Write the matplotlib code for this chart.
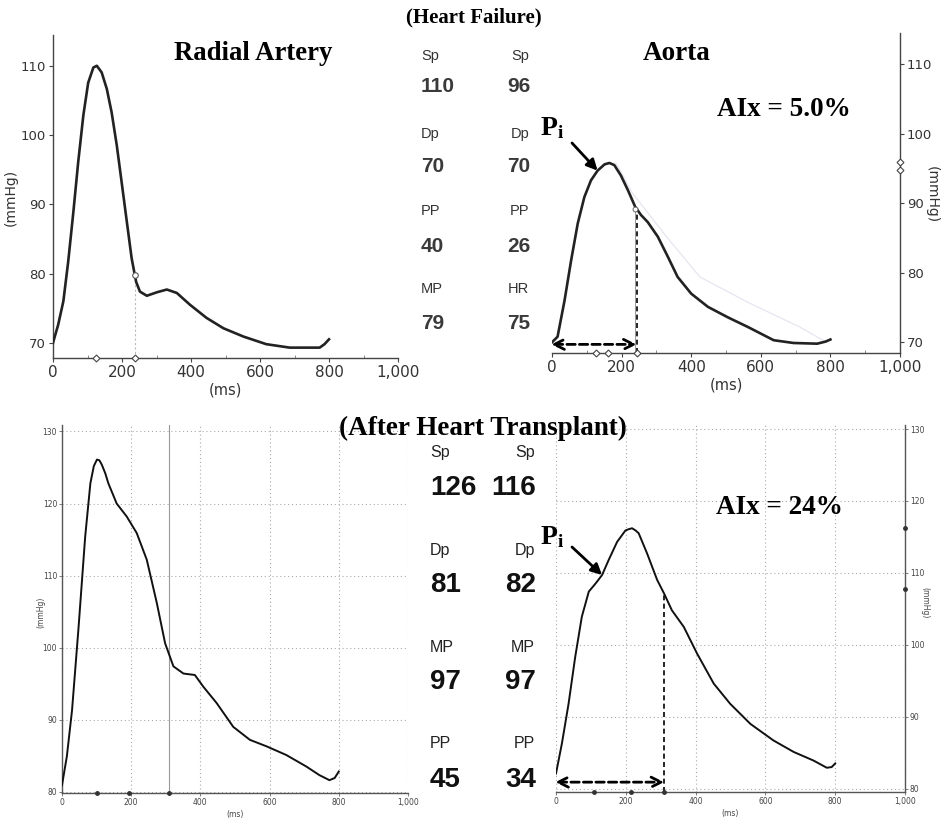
import numpy as np
import matplotlib.pyplot as plt

plt.rcParams['mathtext.fontset'] = 'custom'
plt.rcParams['mathtext.bf'] = 'Liberation Serif:bold'
plt.rcParams['mathtext.rm'] = 'Liberation Serif'

# ---- waveform data (time in ms, pressure in mmHg) ----
# heart failure: radial artery
hf_rad_t = [0, 15, 30, 44, 59, 73, 88, 102, 117, 127, 141, 156, 170, 185, 199, 214, 228, 241, 252, 272,
            301, 330, 359, 397, 445, 494, 552, 618, 686, 773, 787, 800]
hf_rad_p = [70.0, 72.6, 76.0, 81.7, 88.9, 96.1, 102.9, 107.6, 109.8, 110.05, 109.1, 106.7, 103.3, 98.5,
            93.2, 87.5, 82.2, 78.8, 77.4, 76.8, 77.3, 77.7, 77.2, 75.5, 73.6, 72.1, 70.9, 69.8, 69.3,
            69.3, 69.8, 70.5]
# heart failure: aorta (reconstructed)
hf_ao_t = [0, 16, 36, 55, 74, 93, 112, 131, 151, 165, 179, 198, 218, 239, 256, 275, 304, 333, 361, 400,
           448, 505, 563, 637, 694, 762, 786, 800]
hf_ao_p = [70.0, 70.8, 76.0, 81.8, 87.1, 90.9, 93.3, 94.7, 95.6, 95.8, 95.5, 94.0, 91.9, 89.5, 88.3, 87.3,
           85.2, 82.3, 79.4, 77.0, 75.1, 73.6, 72.2, 70.3, 69.9, 69.8, 70.1, 70.4]
hf_ao2_t = [185, 232, 329, 425, 569, 712, 789]
hf_ao2_p = [95.7, 91.4, 85.2, 79.4, 75.6, 72.2, 70.0]

# after transplant: radial artery
tx_rad_t = [0, 14, 29, 48, 67, 82, 92, 101, 108, 115, 125, 134, 158, 187, 216, 245, 274, 298, 322, 351, 384,
            408, 447, 495, 543, 591, 648, 706, 744, 773, 788, 800]
tx_rad_p = [80.9, 84.9, 91.3, 102.9, 115.4, 122.8, 125.2, 126.1, 126.0, 125.4, 124.2, 122.8, 120.0, 118.2,
            115.9, 112.2, 106.2, 100.6, 97.4, 96.4, 96.2, 94.6, 92.3, 89.0, 87.2, 86.3, 85.1, 83.5, 82.3,
            81.6, 81.9, 82.8]
# after transplant: aorta
tx_ao_t = [0, 17, 36, 55, 74, 94, 113, 132, 151, 175, 199, 210, 218, 228, 237, 261, 290, 310, 332, 366, 404,
           452, 499, 557, 623, 681, 738, 776, 790, 800]
tx_ao_p = [82.1, 86.3, 91.8, 98.3, 103.9, 107.4, 108.5, 109.7, 111.8, 114.3, 115.9, 116.1, 116.2, 115.9,
           115.5, 112.7, 109.0, 107.1, 104.8, 102.5, 98.8, 94.6, 91.8, 89.0, 86.7, 85.1, 83.9, 82.9, 83.0, 83.5]

# timing markers along the time axis (ms)
hf_rad_marks = [126, 237]
hf_ao_marks = [126, 160, 243]
tx_rad_marks = [101, 195, 310]
tx_ao_marks = [108, 215, 310]
hf_ao_pmarks = [96, 94.8]
tx_ao_pmarks = [116.2, 107.8]

# summary numbers
hf_labels_l = ['Sp', 'Dp', 'PP', 'MP']
hf_values_l = ['110', '70', '40', '79']
hf_labels_r = ['Sp', 'Dp', 'PP', 'HR']
hf_values_r = ['96', '70', '26', '75']
tx_labels = ['Sp', 'Dp', 'MP', 'PP']
tx_values_l = ['126', '81', '97', '45']
tx_values_r = ['116', '82', '97', '34']

W, H = 948, 819
fig = plt.figure(figsize=(W / 100, H / 100), dpi=100)
fig.patch.set_facecolor('white')


def fx(x):
    return x / W


def fy(y):
    return 1 - y / H


def panel(x0, x1, y0, y1):
    return fig.add_axes([fx(x0), fy(y1), fx(x1 - x0), fy(y0) - fy(y1)])


def style_top(ax, side):
    ax.set_xlim(0, 1000)
    ax.set_xticks([0, 200, 400, 600, 800, 1000])
    ax.set_xticklabels(['0', '200', '400', '600', '800', '1,000'])
    ax.set_xticks(np.arange(100, 1000, 200), minor=True)
    ax.set_yticks([70, 80, 90, 100, 110])
    for s in ['top', 'left', 'right']:
        ax.spines[s].set_visible(False)
    ax.spines[side].set_visible(True)
    for s in ax.spines.values():
        s.set_color('#444444')
        s.set_linewidth(1.0)
    if side == 'right':
        ax.yaxis.tick_right()
    ax.tick_params(axis='both', colors='#444444', labelcolor='#333333', length=3, width=0.8, pad=2)
    ax.tick_params(axis='x', labelsize=11)
    ax.tick_params(axis='y', labelsize=9.5)
    ax.tick_params(axis='x', which='minor', length=2, direction='in', color='#777777')
    ax.set_facecolor('none')


def style_bottom(ax, side):
    ax.set_xlim(0, 1000)
    ax.set_xticks([0, 200, 400, 600, 800, 1000])
    ax.set_xticklabels(['0', '200', '400', '600', '800', '1,000'])
    ax.set_yticks([80, 90, 100, 110, 120, 130])
    for s in ['top', 'left', 'right']:
        ax.spines[s].set_visible(False)
    ax.spines[side].set_visible(True)
    for s in ax.spines.values():
        s.set_color('#555555')
        s.set_linewidth(1.0)
    if side == 'right':
        ax.yaxis.tick_right()
    ax.tick_params(axis='both', labelsize=5.5, colors='#666666', labelcolor='#444444',
                   length=2, width=0.6, pad=1.5)
    ax.grid(True, linestyle=(0, (1, 2.5)), color='#aaaaaa', linewidth=0.8)
    ax.set_facecolor('none')


# ---- heart failure, radial ----
ax1 = panel(53, 398, 35, 358)
ax1.set_ylim(67.8, 114.5)
style_top(ax1, 'left')
ax1.plot(hf_rad_t, hf_rad_p, color='#222222', lw=1.9, solid_joinstyle='round', zorder=3)
p_sh = np.interp(hf_rad_marks[-1], hf_rad_t, hf_rad_p)
ax1.vlines(hf_rad_marks[-1], 67.8, p_sh, color='#bbbbbb', lw=0.8, linestyles=(0, (2, 2)))
ax1.plot(hf_rad_marks[-1], p_sh, marker='o', ms=4, mfc='white', mec='#555555', mew=0.8, zorder=4)
ax1.plot(hf_rad_marks, [67.8] * len(hf_rad_marks), ls='none', marker='D', ms=3.5, mfc='white',
         mec='#444444', mew=0.8, clip_on=False, zorder=5)
ax1.set_xlabel('(ms)', fontsize=10.5, color='#333333', labelpad=2)
ax1.set_ylabel('(mmHg)', fontsize=10, color='#333333')
ax1.yaxis.set_label_coords((17.5 - 53) / 345, (358 - 197) / 323)

# ---- heart failure, aorta ----
ax2 = panel(552, 900, 33, 353)
ax2.set_ylim(68.46, 114.5)
style_top(ax2, 'right')
ax2.plot(hf_ao2_t, hf_ao2_p, color='#e6e6f0', lw=0.9, zorder=2)
ax2.plot(hf_ao_t, hf_ao_p, color='#222222', lw=1.9, solid_joinstyle='round', zorder=3)
t_i = hf_ao_marks[-1]
p_i = np.interp(t_i, hf_ao_t, hf_ao_p)
ax2.vlines(t_i - 5, 68.46, p_i, color='#999999', lw=0.7)
ax2.vlines(t_i, 68.46, p_i, color='black', lw=1.2, linestyles=(0, (3, 2)))
ax2.plot(t_i - 5, p_i, marker='o', ms=3.5, mfc='white', mec='#666666', mew=0.7, zorder=4)
ax2.annotate('', xy=(t_i, 69.7), xytext=(-2, 69.7),
             arrowprops=dict(arrowstyle='<->', lw=2.0, linestyle=(0, (3, 1.5)), color='black',
                             mutation_scale=18, shrinkA=0, shrinkB=0))
ax2.plot(hf_ao_marks, [68.46] * len(hf_ao_marks), ls='none', marker='D', ms=3.5, mfc='white',
         mec='#444444', mew=0.8, clip_on=False, zorder=5)
ax2.plot([1000] * 2, hf_ao_pmarks, ls='none', marker='D', ms=3.5, mfc='white',
         mec='#444444', mew=0.8, clip_on=False, zorder=5)
ax2.set_xlabel('(ms)', fontsize=10.5, color='#333333', labelpad=2)
ax2.yaxis.set_label_position('right')
ax2.set_ylabel('(mmHg)', fontsize=10, color='#333333', rotation=270, va='center')
ax2.yaxis.set_label_coords((932 - 552) / 348, (353 - 195) / 320)
ax2.annotate('', xy=(131, 94.7), xytext=(fx(572), fy(143)), textcoords='figure fraction',
             arrowprops=dict(arrowstyle='-|>', lw=2.0, color='black', mutation_scale=16,
                             shrinkA=0, shrinkB=0))

# ---- after transplant, radial ----
ax3 = panel(62, 408, 425, 793)
ax3.set_ylim(79.82, 130.9)
style_bottom(ax3, 'left')
ax3.plot(tx_rad_t, tx_rad_p, color='#111111', lw=1.4, solid_joinstyle='round', zorder=3)
ax3.axvline(tx_rad_marks[-1], color='#999999', lw=0.8)
ax3.plot(tx_rad_marks, [79.82] * len(tx_rad_marks), ls='none', marker='o', ms=2.5, color='#333333',
         clip_on=False, zorder=5)
ax3.set_xlabel('(ms)', fontsize=5.5, color='#444444', labelpad=2)
ax3.set_ylabel('(mmHg)', fontsize=5.5, color='#444444')
ax3.yaxis.set_label_coords((45 - 62) / 346, (793 - 612) / 368)

# ---- after transplant, aorta ----
ax4 = panel(556, 905, 425, 792)
ax4.set_ylim(79.53, 130.56)
style_bottom(ax4, 'right')
ax4.plot(tx_ao_t, tx_ao_p, color='#111111', lw=1.4, solid_joinstyle='round', zorder=3)
t_i = tx_ao_marks[-1]
p_i = np.interp(t_i, tx_ao_t, tx_ao_p)
ax4.vlines(t_i, 79.53, p_i, color='black', lw=1.2, linestyles=(0, (3, 2)))
ax4.annotate('', xy=(t_i, 80.9), xytext=(-2, 80.9),
             arrowprops=dict(arrowstyle='<->', lw=2.0, linestyle=(0, (3, 1.5)), color='black',
                             mutation_scale=18, shrinkA=0, shrinkB=0))
ax4.plot(tx_ao_marks, [79.53] * len(tx_ao_marks), ls='none', marker='o', ms=2.5, color='#333333',
         clip_on=False, zorder=5)
ax4.plot([1000] * 2, tx_ao_pmarks, ls='none', marker='o', ms=2.5, color='#333333',
         clip_on=False, zorder=5)
ax4.set_xlabel('(ms)', fontsize=5.5, color='#444444', labelpad=2)
ax4.yaxis.set_label_position('right')
ax4.set_ylabel('(mmHg)', fontsize=5.5, color='#444444', rotation=270, va='center')
ax4.yaxis.set_label_coords((925 - 556) / 349, (792 - 603) / 367)
ax4.annotate('', xy=(132, 109.7), xytext=(fx(572), fy(547)), textcoords='figure fraction',
             arrowprops=dict(arrowstyle='-|>', lw=2.0, color='black', mutation_scale=16,
                             shrinkA=0, shrinkB=0))

# ---- titles and annotations ----
serif = dict(family='Liberation Serif', fontweight='bold', color='black')
fig.text(fx(474), fy(17), '(Heart Failure)', ha='center', va='center', fontsize=15, **serif)
fig.text(fx(483), fy(428), '(After Heart Transplant)', ha='center', va='center', fontsize=19.5, **serif)
fig.text(fx(253), fy(53), 'Radial Artery', ha='center', va='center', fontsize=19.3, **serif)
fig.text(fx(677), fy(53), 'Aorta', ha='center', va='center', fontsize=19.5, **serif)
fig.text(fx(784), fy(110), 'AIx = 5.0%', ha='center', va='center', fontsize=19.5, **serif)
fig.text(fx(779), fy(507), 'AIx = 24%', ha='center', va='center', fontsize=19.5, **serif)
fig.text(fx(540), fy(127), r'$\mathbf{P_i}$', ha='left', va='center', fontsize=20, color='black')
fig.text(fx(540), fy(536), r'$\mathbf{P_i}$', ha='left', va='center', fontsize=20, color='black')

# ---- summary numbers, heart failure ----
sans = 'Liberation Sans'
lab_y = [56, 134, 211, 289]
val_y = [86, 167, 246, 324]
for i in range(4):
    fig.text(fx(421), fy(lab_y[i]), hf_labels_l[i], ha='left', va='center', fontsize=10.5,
             family=sans, color='#333333')
    fig.text(fx(529), fy(lab_y[i]), hf_labels_r[i], ha='right', va='center', fontsize=10.5,
             family=sans, color='#333333')
    fig.text(fx(421), fy(val_y[i]), hf_values_l[i], ha='left', va='center', fontsize=15,
             family=sans, fontweight='bold', color='#3a3a3a')
    fig.text(fx(530), fy(val_y[i]), hf_values_r[i], ha='right', va='center', fontsize=15,
             family=sans, fontweight='bold', color='#3a3a3a')

# ---- summary numbers, after transplant ----
lab_y = [452, 550, 647, 743]
val_y = [488, 585, 682, 780]
for i in range(4):
    fig.text(fx(430), fy(lab_y[i]), tx_labels[i], ha='left', va='center', fontsize=11.5,
             family=sans, color='#222222')
    fig.text(fx(535), fy(lab_y[i]), tx_labels[i], ha='right', va='center', fontsize=11.5,
             family=sans, color='#222222')
    fig.text(fx(430), fy(val_y[i]), tx_values_l[i], ha='left', va='center', fontsize=20,
             family=sans, fontweight='bold', color='#111111')
    fig.text(fx(536), fy(val_y[i]), tx_values_r[i], ha='right', va='center', fontsize=20,
             family=sans, fontweight='bold', color='#111111')

fig.savefig('out.png', dpi=100)
